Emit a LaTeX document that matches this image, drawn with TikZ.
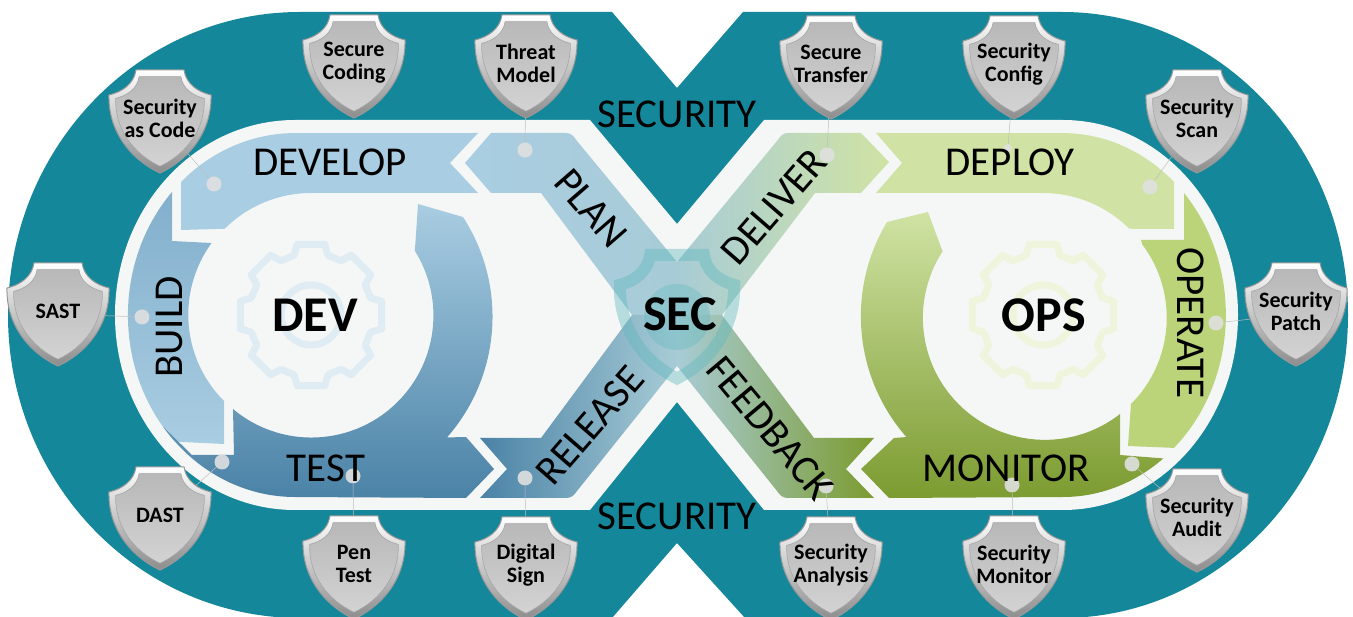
\documentclass[tikz,border=0pt]{standalone}
\usepackage[]{xcolor}
\usepackage{fontspec}
\setmainfont{Carlito}

\definecolor{tealband}{HTML}{14879A}
\definecolor{ringwhite}{HTML}{F5F7F6}
\definecolor{paleblue}{HTML}{A9CDE2}
\definecolor{midblue}{HTML}{6FA2C0}
\definecolor{deepblue}{HTML}{4A82A6}
\definecolor{duskblue}{HTML}{82AFCC}
\definecolor{palegreen}{HTML}{D0E3A4}
\definecolor{limegreen}{HTML}{BBD47A}
\definecolor{midgreen}{HTML}{A6C25C}
\definecolor{deepgreen}{HTML}{7C9B30}
\definecolor{seagreen}{HTML}{9ABD98}
\definecolor{paleteal}{HTML}{A8CCD6}
\definecolor{secteal}{HTML}{5FB8BE}
\definecolor{gearblue}{HTML}{E0ECF4}
\definecolor{geargreen}{HTML}{EFF5DC}
\definecolor{badgegray}{HTML}{C8C8C8}

% outline of a badge, centred on the origin
\newcommand{\shieldpath}{(-24,-51) -- (24,-51) .. controls (26,-37) and (38,-29) .. (51,-26)
  .. controls (52,10) and (30,38) .. (0,52) .. controls (-30,38) and (-52,10) .. (-51,-26)
  .. controls (-38,-29) and (-26,-37) .. (-24,-51) -- cycle}

\newcommand{\badge}[4]{
  \path [shift={(#2,#3)}, top color=white, bottom color=gray!90, draw=gray!80, line width=1pt] \shieldpath;
  \path [shift={(#2,#3)}, scale=.87, top color=badgegray!92!black, bottom color=badgegray!80!white, draw=black!35, line width=.6pt] \shieldpath;
  \node (#1) [badgetext] at (#2,#3-3) {#4};
}

\newcommand{\gearmark}[3]{
  \draw [shift={(#1,#2)}, color=#3, line width=7pt, line join=round] (-16:62)
    foreach \a in {0,45,...,315} { -- (\a-11:72) -- (\a+11:72) -- (\a+16:62) -- (\a+29:62) } -- cycle; % 8 teeth
  \draw [shift={(#1,#2)}, color=#3, line width=7pt] (0:30) arc[start angle=0, end angle=360, radius=30];
}

\tikzset{
  dotmark/.style={circle, fill=black!12, opacity=.9, minimum width=15pt, inner sep=0pt},
  linkline/.style={color=black!25, line width=.5pt},
  bandlabel/.style={font=\fontsize{41}{41}\selectfont, inner sep=0pt},
  hublabel/.style={font=\fontsize{50}{50}\selectfont\bfseries, inner sep=0pt},
  badgetext/.style={font=\fontsize{22}{23}\selectfont\bfseries, align=center, inner sep=0pt}
}

\begin{document}
\begin{tikzpicture}[x = 1pt, y = -1pt]
\useasboundingbox (0,0) rectangle (1353,617);
\path [fill=white] (0,0) rectangle (1353,617);

% teal track and the white X inside it
\path [fill=tealband] (612,12) -- (677,88) -- (743,12) -- (1062,12)
  arc[start angle=-90, end angle=90, x radius=286, y radius=303] -- (745,618) -- (677,543) -- (612,618) -- (300,618)
  arc[start angle=90, end angle=270, x radius=292, y radius=303] -- cycle;
\path [fill=ringwhite] (590,120) -- (677,224) -- (764,120) -- (1063,120)
  arc[start angle=-90, end angle=90, x radius=175, y radius=195] -- (764,510) -- (677,402) -- (590,510) -- (295,510)
  arc[start angle=90, end angle=270, x radius=180, y radius=195] -- cycle;

% DEV loop
\path [fill=paleblue] (181,230) -- (181,182)
  arc[start angle=227, end angle=270, x radius=167, y radius=182] -- (478,133) -- (450,163) -- (478,193) -- (311,193)
  arc[start angle=270, end angle=225, radius=122] -- cycle;
\path [top color=duskblue, bottom color=paleblue] (172,241) -- (172,192)
  arc[start angle=222.6, end angle=136, x radius=167, y radius=182] -- (224,444) -- (224,401)
  arc[start angle=135, end angle=216, radius=122] -- cycle;
\path [top color=paleblue, middle color=midblue, bottom color=deepblue] (192,455) -- (234,455) -- (233,409)
  arc[start angle=130, end angle=-32, radius=122] -- (418,204) -- (463,217)
  arc[start angle=-33, end angle=41.3, radius=183] -- (466,437) -- (494,469) -- (466,498) -- (295,497)
  arc[start angle=90, end angle=142, x radius=167, y radius=182] -- cycle;

% OPS loop
\path [fill=palegreen] (876,133) -- (902,163) -- (876,193) -- (1043,193)
  arc[start angle=270, end angle=315, radius=122] -- (1174,229) -- (1174,182)
  arc[start angle=-47, end angle=-90, x radius=163, y radius=182] -- cycle;
\path [fill=limegreen] (1141,240) -- (1184,240) -- (1184,193)
  arc[start angle=-42, end angle=47, x radius=163, y radius=182] -- (1128,446) -- (1131,404)
  arc[start angle=45, end angle=-37, radius=122] -- cycle;
\path [top color=palegreen, middle color=midgreen, bottom color=deepgreen] (894,438) -- (861,469) -- (889,498) -- (1063,497)
  arc[start angle=90, end angle=52, x radius=163, y radius=182] -- (1120,455) -- (1120,414)
  arc[start angle=52, end angle=213, radius=122] -- (928,212) -- (887,222)
  arc[start angle=211, end angle=138.7, radius=183] -- cycle;

% the four arms of the X
\path [left color=paleblue, right color=paleteal] (465,163) -- (491,133) -- (566,133)
  .. controls (572,133) and (574,137) .. (577,141) -- (677,262) -- (677,315) -- (632,315) -- (541,193) -- (491,193) -- cycle;
\path [left color=paleteal, right color=palegreen] (861,133) -- (889,162) -- (861,193) -- (815,193) -- (722,315) -- (677,315) -- (677,262) -- (777,141)
  .. controls (780,137) and (782,133) .. (788,133) -- cycle;
\path [left color=deepblue, middle color=midblue, right color=paleteal] (480,438) -- (507,469) -- (480,498) -- (566,498)
  .. controls (572,498) and (574,495) .. (577,491) -- (677,366) -- (677,315) -- (632,315) -- (541,438) -- cycle;
\path [left color=paleteal, middle color=seagreen, right color=deepgreen] (874,438) -- (846,469) -- (874,498) -- (788,498)
  .. controls (782,498) and (780,495) .. (777,491) -- (677,366) -- (677,315) -- (722,315) -- (814,438) -- cycle;

% gears and the SEC mark
\gearmark{311}{315}{gearblue}
\gearmark{1043}{315}{geargreen}
\draw [shift={(677,316)}, xscale=1.12, yscale=1.2, color=secteal, opacity=.42, line width=12pt] \shieldpath;
\path [fill=secteal, opacity=.35] (677,317) circle[radius=33];

% dots on the bands
\node (plandot) [dotmark] at (525,150) {};
\node (developdot) [dotmark] at (214,184) {};
\node (builddot) [dotmark] at (142,317) {};
\node (testdot) [dotmark] at (222,462) {};
\node (pendot) [dotmark] at (353,476) {};
\node (releasedot) [dotmark] at (525,478) {};
\node (deliverdot) [dotmark] at (827,155) {};
\node (configdot) [dotmark, minimum width=8pt] at (1008,148) {};
\node (deploydot) [dotmark] at (1150,187) {};
\node (operatedot) [dotmark] at (1216,323) {};
\node (auditdot) [dotmark] at (1132,464) {};
\node (monitordot) [dotmark] at (1012,485) {};
\node (feedbackdot) [dotmark] at (826,486) {};

% band labels
\node (develop) [bandlabel] at (330,162) {DEVELOP};
\node (plan) [bandlabel, rotate=-49] at (591,208) {PLAN};
\node (build) [bandlabel, rotate=90] at (169,327) {BUILD};
\node (test) [bandlabel] at (326,468) {TEST};
\node (release) [bandlabel, rotate=49] at (590,425) {RELEASE};
\node (deliver) [bandlabel, rotate=49] at (774,207) {DELIVER};
\node (deploy) [bandlabel] at (1010,162) {DEPLOY};
\node (operate) [bandlabel, rotate=-90] at (1191,323) {OPERATE};
\node (monitor) [bandlabel] at (1006,468) {MONITOR};
\node (feedback) [bandlabel, rotate=-50] at (770,428) {FEEDBACK};
\node (securitytop) [bandlabel] at (677,114) {SECURITY};
\node (securitybottom) [bandlabel] at (677,516) {SECURITY};
\node (dev) [hublabel] at (315,315) {DEV};
\node (sec) [hublabel] at (680,314) {SEC};
\node (ops) [hublabel] at (1044,315) {OPS};

% where the badges sit, so the links run under them
\coordinate (threatspot) at (526,66);
\coordinate (codespot) at (160,121);
\coordinate (sastspot) at (58,314);
\coordinate (dastspot) at (160,518);
\coordinate (penspot) at (354,567);
\coordinate (signspot) at (526,568);
\coordinate (transferspot) at (831,67);
\coordinate (configspot) at (1014,67);
\coordinate (scanspot) at (1197,121);
\coordinate (patchspot) at (1296,314);
\coordinate (auditspot) at (1197,520);
\coordinate (monitorspot) at (1014,567);
\coordinate (analysisspot) at (831,568);

\draw [linkline] (threatspot) -- (plandot);
\draw [linkline] (codespot) -- (developdot);
\draw [linkline] (sastspot) -- (builddot);
\draw [linkline] (dastspot) -- (testdot);
\draw [linkline] (penspot) -- (pendot);
\draw [linkline] (signspot) -- (releasedot);
\draw [linkline] (transferspot) -- (deliverdot);
\draw [linkline] (configspot) -- (configdot);
\draw [linkline] (scanspot) -- (deploydot);
\draw [linkline] (patchspot) -- (operatedot);
\draw [linkline] (auditspot) -- (auditdot);
\draw [linkline] (monitorspot) -- (monitordot);
\draw [linkline] (analysisspot) -- (feedbackdot);

% badges
\badge{securecoding}{354}{66}{Secure\\Coding}
\badge{threatmodel}{526}{66}{Threat\\Model}
\badge{securityascode}{160}{121}{Security\\as Code}
\badge{sast}{58}{314}{SAST}
\badge{dast}{160}{518}{DAST}
\badge{pentest}{354}{567}{Pen\\Test}
\badge{digitalsign}{526}{568}{Digital\\Sign}
\badge{securetransfer}{831}{67}{Secure\\Transfer}
\badge{securityconfig}{1014}{67}{Security\\Config}
\badge{securityscan}{1197}{121}{Security\\Scan}
\badge{securitypatch}{1296}{314}{Security\\Patch}
\badge{securityaudit}{1197}{520}{Security\\Audit}
\badge{securitymonitor}{1014}{567}{Security\\Monitor}
\badge{securityanalysis}{831}{568}{Security\\Analysis}
\end{tikzpicture}
\end{document}
